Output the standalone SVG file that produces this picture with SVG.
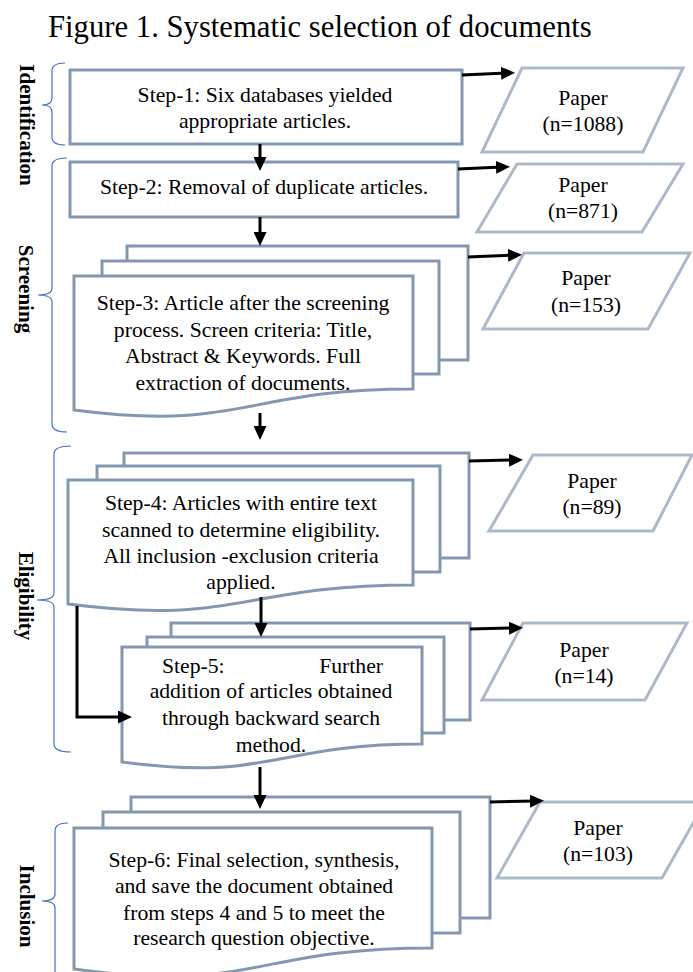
<svg xmlns="http://www.w3.org/2000/svg" width="693" height="972" viewBox="0 0 693 972">
<style>
.box{fill:#fff;stroke:#8497B0;stroke-width:3}
.paper{fill:#fff;stroke:#ACB9CA;stroke-width:3}
.t{font-family:"Liberation Serif","Times New Roman",serif;font-size:21.7px;fill:#000;text-anchor:middle}
.title{font-family:"Liberation Serif","Times New Roman",serif;font-size:30.7px;fill:#000}
.lab{font-family:"Liberation Serif","Times New Roman",serif;font-size:21px;font-weight:bold;fill:#000;text-anchor:middle}
.brace{fill:none;stroke:#4472C4;stroke-width:1.2}
.arr{fill:none;stroke:#000;stroke-width:3;marker-end:url(#ah)}
</style>
<defs>
<marker id="ah" markerUnits="userSpaceOnUse" markerWidth="14" markerHeight="13" refX="6" refY="6.5" orient="auto">
<path d="M0,0 L14,6.5 L0,13 Z" fill="#000"/>
</marker>
</defs>
<rect width="693" height="972" fill="#fff"/>
<text class="title" x="48" y="37">Figure 1. Systematic selection of documents</text>

<g id="phases">
<path class="brace" d="M65,63 Q52,63 52,71 V98 Q52,105 42,105 Q52,105 52,112 V137 Q52,145 65,145"/>
<text class="lab" transform="translate(20,125) rotate(90)">Identification</text>
<path class="brace" d="M67,158 Q52,158 52,166 V288 Q52,295 38,295 Q52,295 52,302 V424 Q52,432 67,432"/>
<text class="lab" transform="translate(19,289) rotate(90)">Screening</text>
<path class="brace" d="M71,446 Q54,446 54,454 V593 Q54,600 37,600 Q54,600 54,607 V744 Q54,752 71,752"/>
<text class="lab" transform="translate(19,596) rotate(90)">Eligibility</text>
<path class="brace" d="M68,823 Q55,823 55,831 V894 Q55,901 42,901 Q55,901 55,908 V990"/>
<text class="lab" transform="translate(20,906) rotate(90)">Inclusion</text>
</g>

<g id="step1">
<rect class="box" x="70" y="70" width="392" height="74"/>
<text class="t" x="265" y="102">Step-1: Six databases yielded</text>
<text class="t" x="265" y="128">appropriate articles.</text>
</g>

<g id="step2">
<rect class="box" x="70" y="162" width="388" height="55"/>
<text class="t" x="264" y="194">Step-2: Removal of duplicate articles.</text>
</g>

<g id="step3">
<rect class="box" x="127" y="246" width="341" height="114"/>
<rect class="box" x="102" y="261" width="337" height="113"/>
<path class="box" d="M74,276 H413 V389 C243,389 243,432 74,410 Z"/>
<text class="t" x="243" y="310">Step-3: Article after the screening</text>
<text class="t" x="243" y="337">process. Screen criteria: Title,</text>
<text class="t" x="243" y="363">Abstract &amp; Keywords. Full</text>
<text class="t" x="243" y="390">extraction of documents.</text>
</g>

<g id="step4">
<rect class="box" x="124" y="453" width="345" height="105"/>
<rect class="box" x="97" y="466" width="343" height="106"/>
<path class="box" d="M68,480 H413 V585 C240,585 240,626 68,604 Z"/>
<text class="t" x="241" y="510">Step-4: Articles with entire text</text>
<text class="t" x="241" y="537">scanned to determine eligibility.</text>
<text class="t" x="241" y="563">All inclusion -exclusion criteria</text>
<text class="t" x="241" y="589">applied.</text>
</g>

<g id="step5">
<rect class="box" x="171" y="623" width="299" height="97"/>
<rect class="box" x="147" y="637" width="297" height="96"/>
<path class="box" d="M122,647 H422 V744 C272,744 272,782 122,762 Z"/>
<text class="t" x="162" y="673" style="text-anchor:start">Step-5:</text>
<text class="t" x="383" y="673" style="text-anchor:end">Further</text>
<text class="t" x="271" y="698">addition of articles obtained</text>
<text class="t" x="271" y="725">through backward search</text>
<text class="t" x="271" y="752">method.</text>
</g>

<g id="step6">
<rect class="box" x="131" y="797" width="359" height="121"/>
<rect class="box" x="103" y="812" width="357" height="121"/>
<path class="box" d="M74,828 H432 V948 C253,948 253,994 74,969 Z"/>
<text class="t" x="254" y="867">Step-6: Final selection, synthesis,</text>
<text class="t" x="254" y="893">and save the document obtained</text>
<text class="t" x="254" y="920">from steps 4 and 5 to meet the</text>
<text class="t" x="254" y="945">research question objective.</text>
</g>

<g id="paper1">
<polygon class="paper" points="522,68 683,68 643,152 482,152"/>
<text class="t" x="583" y="105">Paper</text>
<text class="t" x="583" y="131">(n=1088)</text>
</g>
<g id="paper2">
<polygon class="paper" points="517,164 683,164 642,232 477,232"/>
<text class="t" x="583" y="192">Paper</text>
<text class="t" x="583" y="218">(n=871)</text>
</g>
<g id="paper3">
<polygon class="paper" points="524,253 690,253 648,329 483,329"/>
<text class="t" x="586" y="285">Paper</text>
<text class="t" x="586" y="312">(n=153)</text>
</g>
<g id="paper4">
<polygon class="paper" points="533,455 692,455 653,531 489,531"/>
<text class="t" x="592" y="488">Paper</text>
<text class="t" x="592" y="514">(n=89)</text>
</g>
<g id="paper5">
<polygon class="paper" points="523,623 687,623 645,700 482,700"/>
<text class="t" x="584" y="657">Paper</text>
<text class="t" x="584" y="683">(n=14)</text>
</g>
<g id="paper6">
<polygon class="paper" points="540,802 705,802 662,878 497,878"/>
<text class="t" x="598" y="835">Paper</text>
<text class="t" x="598" y="861">(n=103)</text>
</g>

<g id="connectors">
<path class="arr" d="M260,144 V163"/>
<path class="arr" d="M260,217 V238"/>
<path class="arr" d="M260,413 V432"/>
<path class="arr" d="M261,597 V629"/>
<path class="arr" d="M260,767 V801"/>
<path class="arr" d="M77,606 V717 H124"/>
<path class="arr" d="M462,75 L507,73"/>
<path class="arr" d="M458,169 L502,167"/>
<path class="arr" d="M468,257 L514,255"/>
<path class="arr" d="M469,461 L515,460"/>
<path class="arr" d="M470,629 L515,628"/>
<path class="arr" d="M490,802 L536,801"/>
</g>
</svg>
